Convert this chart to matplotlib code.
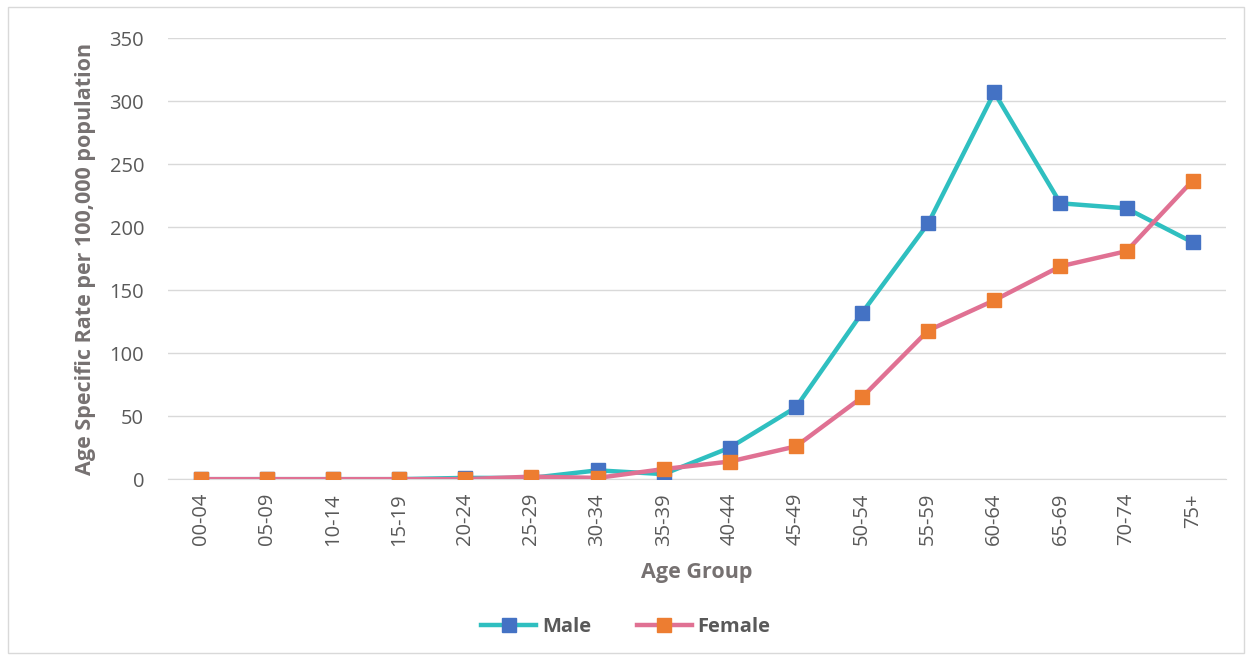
import matplotlib
matplotlib.use("Agg")
import matplotlib.pyplot as plt
from matplotlib.patches import Rectangle

categories = ["00-04", "05-09", "10-14", "15-19", "20-24", "25-29", "30-34", "35-39",
              "40-44", "45-49", "50-54", "55-59", "60-64", "65-69", "70-74", "75+"]
male = [0, 0, 0, 0, 1, 1, 7, 4, 25, 57, 132, 203, 307, 219, 215, 188]
female = [0, 0, 0, 0, 0, 2, 1, 8, 14, 26, 65, 118, 142, 169, 181, 237]
yticks = [0, 50, 100, 150, 200, 250, 300, 350]

plt.rcParams['font.family'] = ['Open Sans', 'DejaVu Sans']
gray = "#767171"
txt = "#595959"

fig = plt.figure(figsize=(12.52, 6.6), dpi=100)
fig.patches.append(Rectangle((0.006, 0.011), 0.988, 0.978, transform=fig.transFigure,
                             fill=False, edgecolor="#D9D9D9", linewidth=1.0))
ax = fig.add_axes([0.134, 0.274, 0.845, 0.668])
x = list(range(len(categories)))
ax.plot(x, male, color="#2FBFC0", linewidth=3.2, marker="s", markersize=10,
        markerfacecolor="#4472C4", markeredgecolor="#4472C4", label="Male", zorder=3)
ax.plot(x, female, color="#E07193", linewidth=3.2, marker="s", markersize=10,
        markerfacecolor="#ED7D31", markeredgecolor="#ED7D31", label="Female", zorder=4)

ax.set_xlim(-0.5, len(categories) - 0.5)
ax.set_ylim(0, 350)
ax.set_yticks(yticks)
ax.set_xticks(x)
ax.set_xticklabels(categories, rotation=90)
ax.grid(axis="y", color="#D9D9D9", linewidth=1)
ax.set_axisbelow(True)
for s in ["top", "right", "left"]:
    ax.spines[s].set_visible(False)
ax.spines["bottom"].set_color("#D9D9D9")
ax.tick_params(axis="both", length=0, labelsize=14.5, colors=txt, pad=10)
ax.tick_params(axis="y", pad=17)
ax.set_xlabel("Age Group", fontsize=15.5, fontweight="bold", color=gray, labelpad=12)
ax.set_ylabel("Age Specific Rate per 100,000 population", fontsize=15.5,
              fontweight="bold", color=gray, labelpad=10)

leg = fig.legend(loc="center", bbox_to_anchor=(0.5, 0.05), ncol=2, frameon=False,
                 fontsize=14.5, handlelength=2.7, columnspacing=2.3, handletextpad=0.3)
for t in leg.get_texts():
    t.set_color(txt)
    t.set_fontweight("bold")

fig.savefig("out.png", dpi=100)
